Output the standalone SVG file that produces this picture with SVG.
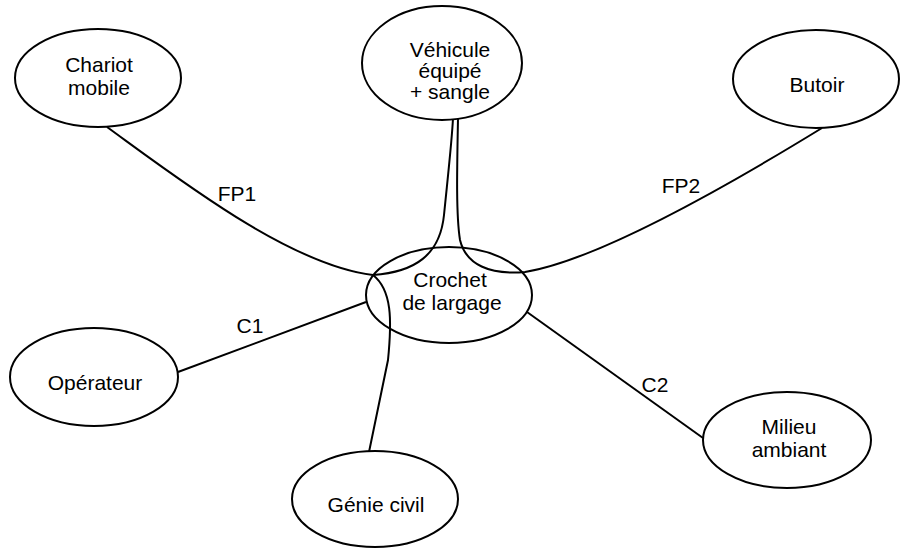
<svg xmlns="http://www.w3.org/2000/svg" width="908" height="550" viewBox="0 0 908 550">
<style>
  .node ellipse { fill: #fff; stroke: #000; stroke-width: 2; }
  .node text, .lbl { font-family: "Liberation Sans", Arial, sans-serif; font-size: 21px; fill: #000; text-anchor: middle; }
  .conn path { fill: none; stroke: #000; stroke-width: 2; }
</style>
<rect width="908" height="550" fill="#fff"/>
<g id="connectors" class="conn">
  <path d="M107,127 C180,180 290,265 373,275 C415,272 440,255 444,215 S452,140 453,118"/>
  <path d="M458,119 C457,170 456,215 460,240 C466,265 490,275 525,272 Q610,258 822,128"/>
  <path d="M369,452 L388,360 C392,320 392,290 373,275"/>
  <path d="M178,372 L366,302"/>
  <path d="M527,312 L703,438"/>
</g>
<g id="crochet" class="node">
  <ellipse cx="449" cy="295" rx="83" ry="48" fill="none" style="fill:none"/>
  <text x="450" y="287">Crochet</text>
  <text x="452" y="310">de largage</text>
</g>
<g id="chariot" class="node">
  <ellipse cx="98" cy="78" rx="83" ry="49"/>
  <text x="99" y="72">Chariot</text>
  <text x="99" y="95">mobile</text>
</g>
<g id="vehicule" class="node">
  <ellipse cx="442" cy="63" rx="80" ry="57"/>
  <text x="450" y="57">Véhicule</text>
  <text x="450" y="78">équipé</text>
  <text x="450" y="99">+ sangle</text>
</g>
<g id="butoir" class="node">
  <ellipse cx="816" cy="79" rx="83" ry="49"/>
  <text x="817" y="92">Butoir</text>
</g>
<g id="operateur" class="node">
  <ellipse cx="94" cy="377" rx="84" ry="49"/>
  <text x="95" y="390">Opérateur</text>
</g>
<g id="genie" class="node">
  <ellipse cx="375" cy="499" rx="83" ry="48"/>
  <text x="376" y="512">Génie civil</text>
</g>
<g id="milieu" class="node">
  <ellipse cx="787" cy="440" rx="84" ry="48"/>
  <text x="789" y="434">Milieu</text>
  <text x="789" y="457">ambiant</text>
</g>
<g id="labels">
  <text class="lbl" x="237" y="201">FP1</text>
  <text class="lbl" x="681" y="193">FP2</text>
  <text class="lbl" x="250" y="333">C1</text>
  <text class="lbl" x="655" y="392">C2</text>
</g>
</svg>
